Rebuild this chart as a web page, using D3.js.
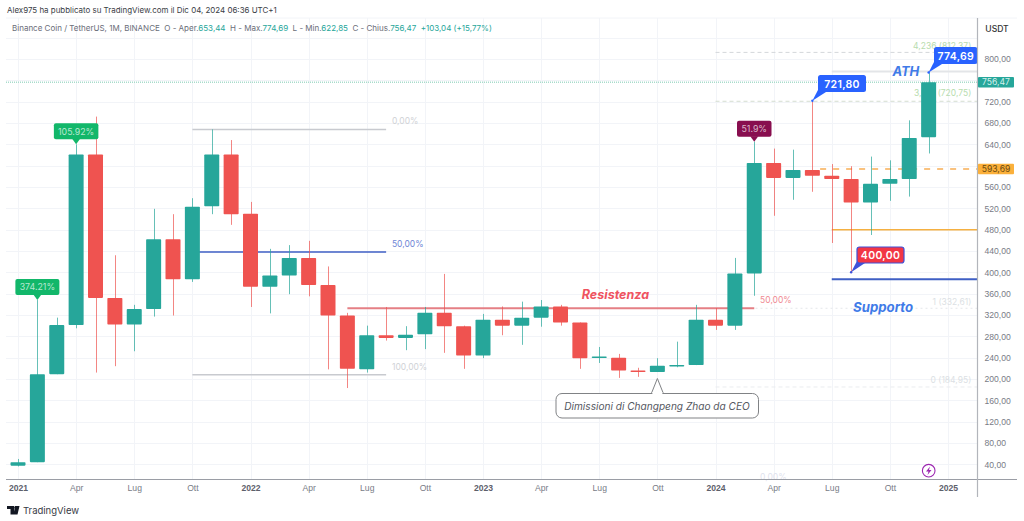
<!DOCTYPE html>
<html>
<head>
<meta charset="utf-8">
<script src="https://cdn.jsdelivr.net/npm/d3@7"></script>
<style>
  body { margin: 0; background: #fff; }
  svg { display: block; font-family: Inter, "Noto Sans", sans-serif; }
  .tick line, .domain { display: none; }
</style>
</head>
<body>
<svg id="chart" width="1024" height="521"></svg>
<script>
// monthly candles, Jan 2021 - Dec 2024
var opens = [37.5, 44, 209, 301, 621, 352, 302, 331, 462, 387, 524, 621,
    510, 373, 394, 427, 376, 319, 218, 282, 277, 284, 324, 299,
    244, 311, 300, 315, 336, 306, 241, 240, 216, 213, 224, 226,
    311, 300, 398, 605, 577, 592, 581, 575, 531, 566, 575, 653.44];
var highs = [50, 348, 315, 640, 692, 432, 339, 519, 509, 539, 668, 648,
    532, 444, 451, 459, 411, 324, 300, 335, 299, 335, 397, 300,
    322, 336, 345, 348, 339, 306, 260, 247, 221, 239, 270, 339,
    333, 427, 645, 632, 630, 721.8, 603, 599, 617, 610, 685, 774.69];
var lows = [36, 44, 209, 295, 212, 224, 252, 317, 319, 382, 509, 489,
    335, 323, 359, 355, 218, 183, 212, 272, 254, 256, 249, 219,
    239, 282, 264, 298, 300, 219, 230, 202, 204, 213, 222, 226,
    292, 292, 356, 506, 536, 551, 455, 400, 470, 534, 542, 622.85];
var closes = [44, 209, 301, 621, 352, 302, 331, 462, 387, 523, 621, 509,
    373, 394, 427, 376, 319, 219, 282, 277, 283, 324, 299, 244,
    311, 300, 315, 336, 306, 239, 242, 216, 213, 225, 226, 311,
    300, 398, 605, 577, 592, 581, 575, 531, 566, 575, 652, 756.47];

// time axis: month index -> label
var timeTicks = [0, 3, 6, 9, 12, 15, 18, 21, 24, 27, 30, 33, 36, 39, 42, 45, 48];
var timeLabels = ["2021", "Apr", "Lug", "Ott", "2022", "Apr", "Lug", "Ott", "2023", "Apr", "Lug", "Ott", "2024", "Apr", "Lug", "Ott", "2025"];

var priceTicks = [840, 800, 760, 720, 680, 640, 600, 560, 520, 480, 440, 400, 360, 320, 280, 240, 200, 160, 120, 80, 40];
// 840, 760 and 600 are hidden by the header and the price tags
var priceLabels = [800, 720, 680, 640, 560, 520, 480, 440, 400, 360, 320, 280, 240, 200, 160, 120, 80, 40];

var lastClose = 756.47, lastPrice2 = 593.69;
var headerText = "Alex975 ha pubblicato su TradingView.com il Dic 04, 2024 06:36 UTC+1";
var legendParts = [["Binance Coin / TetherUS, 1M, BINANCE  O - Aper.", 0], ["653,44", 1], ["  H - Max.", 0], ["774,69", 1],
    ["  L - Min.", 0], ["622,85", 1], ["  C - Chius.", 0], ["756,47  +103,04 (+15,77%)", 1]];

var upColor = "#26a69a", downColor = "#ef5350", blue = "#2962ff";

var plotLeft = 6, plotRight = 977.5, plotTop = 18, plotBottom = 479.5;

// set the ranges
var x = d3.scaleLinear().domain([0, 48]).range([18, 948]);
var y = d3.scaleLinear().domain([40, 800]).range([464.3, 59]);

var svg = d3.select("#chart");

// grid
var grid = svg.append("g").attr("stroke", "#f2f4f8").attr("stroke-width", 1);
grid.selectAll(".gx").data(timeTicks).enter().append("line")
    .attr("x1", function (d) { return Math.round(x(d)) + 0.5; })
    .attr("x2", function (d) { return Math.round(x(d)) + 0.5; })
    .attr("y1", plotTop).attr("y2", plotBottom);
grid.selectAll(".gy").data(priceTicks).enter().append("line")
    .attr("x1", plotLeft).attr("x2", plotRight)
    .attr("y1", function (d) { return Math.round(y(d)) + 0.5; })
    .attr("y2", function (d) { return Math.round(y(d)) + 0.5; });

svg.append("line").attr("x1", plotLeft).attr("x2", 1017).attr("y1", plotTop).attr("y2", plotTop)
    .attr("stroke", "#f2f4f8");

// horizontal levels drawn behind the candles
function level(i0, i1, price, color, w, dash) {
    svg.append("line")
        .attr("x1", i0 === null ? plotLeft : x(i0))
        .attr("x2", i1 === null ? plotRight : x(i1))
        .attr("y1", y(price)).attr("y2", y(price))
        .attr("stroke", color).attr("stroke-width", w)
        .attr("stroke-dasharray", dash);
}
function note(i, price, str, color, anchor, dy) {
    svg.append("text").attr("x", x(i)).attr("y", y(price) + dy)
        .attr("fill", color).attr("font-size", 8.5)
        .attr("text-anchor", anchor).text(str);
}

level(null, null, lastClose, "#a8dccb", 1.5, "1 1");
level(36, null, 812.37, "#d4d7da", 1, "4 3");
level(36, null, 720.75, "#d4ddd0", 1, "4 3");
level(36, null, 332.61, "#e4e6ea", 1, "2 3");
level(36, null, 184.95, "#eaecef", 1, "4 3");

note(49.2, 812.37, "4,236 (812,37)", "#b7dcae", "end", -3);
note(49.2, 720.75, "3,618 (720,75)", "#b7dcae", "end", -5);
note(49.2, 332.61, "1 (332,61)", "#dcdfe4", "end", -3);
note(49.2, 184.95, "0 (184,95)", "#dcdfe4", "end", -4);

level(9, 19, 668, "#c8cacf", 1.5);
level(9, 19, 438, "#3f5fc4", 1.5);
level(9, 19, 208, "#c8cacf", 1.5);
note(19.3, 668, "0,00%", "#d0d2d6", "start", -5);
note(19.3, 438, "50,00%", "#6f86d6", "start", -5);
note(19.3, 208, "100,00%", "#d0d2d6", "start", -5);
note(38.3, 332.5, "50,00%", "#f08a92", "start", -5);
note(38.3, 10, "0,00%", "#dfe3ee", "start", 0);

level(17, 38, 332.5, "#e57f85", 2);
level(42, null, 479.6, "#f5b041", 1.5);
level(42, null, 387, "#3f5fc4", 2);
level(42, null, 776.6, "#e3e5e8", 2);
level(41.4, null, lastPrice2, "#f7ae55", 1.5, "6 7");

// candles
var candles = d3.range(opens.length);
function candleColor(i) { return closes[i] >= opens[i] ? upColor : downColor; }

svg.selectAll(".wick").data(candles).enter().append("line")
    .attr("class", "wick")
    .attr("x1", function (i) { return Math.round(x(i)) + 0.5; })
    .attr("x2", function (i) { return Math.round(x(i)) + 0.5; })
    .attr("y1", function (i) { return y(highs[i]); })
    .attr("y2", function (i) { return y(lows[i]); })
    .attr("stroke", candleColor)
    .attr("opacity", 0.7);

var bodyWidth = 15;
svg.selectAll(".body").data(candles).enter().append("rect")
    .attr("class", "body")
    .attr("x", function (i) { return x(i) - bodyWidth / 2; })
    .attr("width", bodyWidth)
    .attr("y", function (i) { return y(Math.max(opens[i], closes[i])); })
    .attr("height", function (i) { return Math.max(1.5, Math.abs(y(opens[i]) - y(closes[i]))); })
    .attr("rx", 0.8)
    .attr("fill", candleColor);

// small percent flags above candles
function flag(i, price, str, color, w) {
    var cx = x(i), ty = y(price), h = 16, top = ty - 5 - h;
    svg.append("path")
        .attr("d", "M" + (cx - 4) + "," + (top + h - 0.5) + "L" + cx + "," + ty + "L" + (cx + 4) + "," + (top + h - 0.5) + "Z")
        .attr("fill", color);
    svg.append("rect").attr("x", cx - w / 2).attr("y", top).attr("width", w).attr("height", h)
        .attr("rx", 2).attr("fill", color);
    svg.append("text").attr("x", cx).attr("y", top + 11.2).attr("text-anchor", "middle")
        .attr("font-size", 8.8).attr("fill", "#fff").attr("fill-opacity", 0.7).text(str);
}
flag(1, highs[1], "374.21%", "#12b76a", 44);
flag(3, highs[3], "105.92%", "#12b76a", 44.5);
flag(38, highs[38], "51.9%", "#880e4f", 34.5);

// price callouts with a tail
function callout(i, price, str, bx, by, w, h, fill, border) {
    var px = x(i), py = y(price);
    svg.append("path")
        .attr("d", "M" + px + "," + py + "L" + (bx + 0.5) + "," + (by + h - 3) + "L" + (bx + 8) + "," + (by + h) + "Z")
        .attr("fill", border || fill);
    svg.append("circle").attr("cx", px).attr("cy", py).attr("r", 1.2).attr("fill", border || fill);
    svg.append("rect").attr("x", bx).attr("y", by).attr("width", w).attr("height", h).attr("rx", 2.5)
        .attr("fill", fill)
        .attr("stroke", border || "none").attr("stroke-width", border ? 1.2 : 0);
    svg.append("text").attr("x", bx + w / 2).attr("y", by + h / 2 + 4).attr("text-anchor", "middle")
        .attr("font-size", 10.5).attr("font-weight", 600).attr("letter-spacing", 0.3).attr("fill", "#fff").text(str);
}
callout(41, 721.8, "721,80", 818, 75, 48, 17, blue);
callout(47, 774.69, "774,69", 934, 47, 43.5, 17, blue);
callout(43, 400, "400,00", 857, 247, 47, 16, "#f23645", "#3f51d8");

// italic labels
function italic(i, price, str, color, size, dy) {
    svg.append("text").attr("x", x(i)).attr("y", y(price) + dy)
        .attr("fill", color).attr("font-size", size)
        .attr("font-style", "italic").attr("font-weight", 700).text(str);
}
italic(45.13, 776.6, "ATH", "#3f7be8", 13, 5);
italic(29.1, 332.5, "Resistenza", "#ef5360", 12.5, -9);
italic(43.1, 332.61, "Supporto", "#3f7be8", 13.2, 4);

// CEO note
var noteX = x(33);
svg.append("path")
    .attr("d", "M" + (noteX - 6) + ",393.5L" + noteX + ",378.5L" + (noteX + 6) + ",393.5")
    .attr("fill", "#fff").attr("stroke", "#808285");
svg.append("rect").attr("x", 556).attr("y", 393.5).attr("width", 202.5).attr("height", 24.5).attr("rx", 6)
    .attr("fill", "#fff").attr("stroke", "#808285");
svg.append("rect").attr("x", noteX - 5).attr("y", 392).attr("width", 10).attr("height", 3).attr("fill", "#fff");
svg.append("text").attr("x", 657).attr("y", 409.5).attr("text-anchor", "middle")
    .attr("font-size", 10.1).attr("font-style", "italic").attr("fill", "#55585f")
    .text("Dimissioni di Changpeng Zhao da CEO");

// add the y axis
var yAxis = svg.append("g")
    .attr("transform", "translate(" + plotRight + ",0)")
    .call(d3.axisRight(y).tickValues(priceLabels).tickFormat(function (d) { return d3.format(".2f")(d).replace(".", ","); }).tickSize(0).tickPadding(7));
yAxis.selectAll("text").attr("font-family", "inherit").attr("font-size", 8.6).attr("fill", "#787b86");

// add the x axis
var xAxis = svg.append("g")
    .attr("transform", "translate(0," + plotBottom + ")")
    .call(d3.axisBottom(x).tickValues(timeTicks).tickFormat(function (d, i) { return timeLabels[i]; }).tickSize(0).tickPadding(5));
xAxis.selectAll("text").attr("font-family", "inherit").attr("font-size", 8.6).attr("fill", "#787b86")
    .filter(function (d, i) { return /^20/.test(timeLabels[i]); })
    .attr("font-weight", 700).attr("fill", "#5d606b");

// axis frame
svg.append("line").attr("x1", plotLeft).attr("x2", 1017).attr("y1", plotBottom).attr("y2", plotBottom).attr("stroke", "#9a9da5");
svg.append("line").attr("x1", plotRight).attr("x2", plotRight).attr("y1", plotTop).attr("y2", 497).attr("stroke", "#b2b5bb").attr("stroke-width", 1.2);

svg.append("text").attr("x", 997).attr("y", 32).attr("text-anchor", "middle")
    .attr("font-size", 8.6).attr("font-weight", 500).attr("fill", "#333").text("USDT");

// last price tags
function priceTag(price, fill, color) {
    svg.append("rect").attr("x", 978).attr("y", y(price) - 5.3).attr("width", 36).attr("height", 10.6).attr("fill", fill).attr("rx", 1);
    svg.append("text").attr("x", 996).attr("y", y(price) + 3.2).attr("text-anchor", "middle")
        .attr("font-size", 8.6).attr("fill", color).text(d3.format(".2f")(price).replace(".", ","));
}
priceTag(lastClose, upColor, "#d5f0ec");
priceTag(lastPrice2, "#fbb03b", "#6b4a10");

// lightning icon
svg.append("circle").attr("cx", 928.7).attr("cy", 470.7).attr("r", 6.3).attr("fill", "#fff").attr("stroke", "#9c27b0").attr("stroke-width", 1.1);
svg.append("path").attr("d", "M930,466.5L926,471.5L928.5,471.5L927.5,475L931.5,470L929,470Z").attr("fill", "#9c27b0");

// header and legend
svg.append("text").attr("x", 7).attr("y", 13).attr("font-size", 7.95).attr("fill", "#3a3d45").text(headerText);
var legend = svg.append("text").attr("x", 12).attr("y", 31).attr("font-size", 8).style("white-space", "pre");
legend.selectAll("tspan").data(legendParts).enter().append("tspan")
    .attr("fill", function (d) { return d[1] ? upColor : "#6a6d78"; })
    .text(function (d) { return d[0]; });

// TradingView mark
svg.append("path").attr("d", "M7,506H14V514.5H10.5V509H7ZM15,506H19.5L17.5,514.5H13.5Z").attr("fill", "#131722");
svg.append("circle").attr("cx", 15.5).attr("cy", 507.5).attr("r", 1.2).attr("fill", "#131722");
svg.append("text").attr("x", 23).attr("y", 513.5).attr("font-size", 9.5).attr("fill", "#363a45").text("TradingView");
</script>
</body>
</html>
